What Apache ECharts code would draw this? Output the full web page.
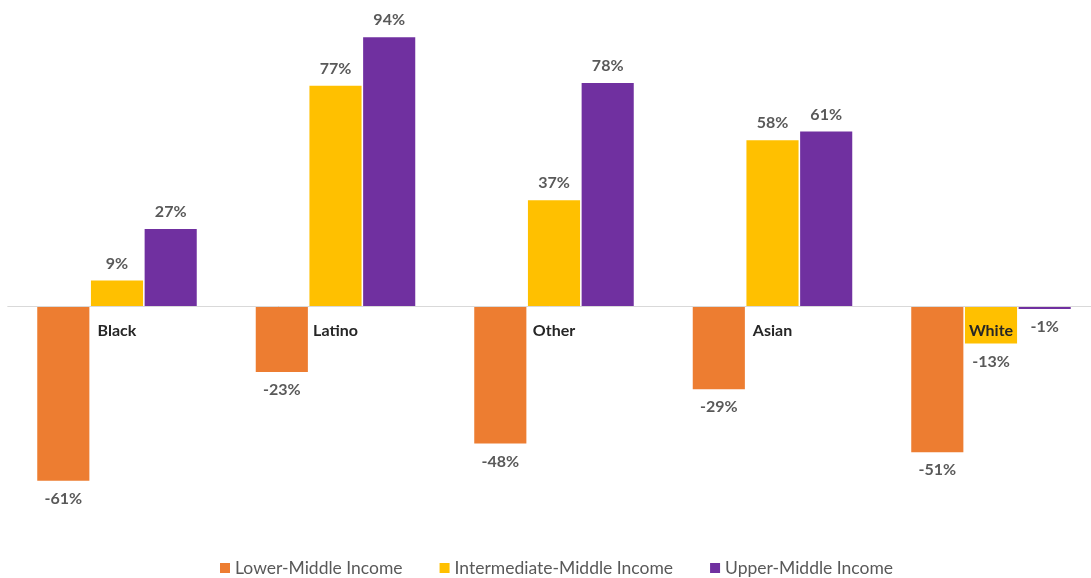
<!DOCTYPE html>
<html>
<head>
<meta charset="utf-8">
<script src="https://cdn.jsdelivr.net/npm/echarts@6/dist/echarts.min.js"></script>
<style>
  html, body { margin: 0; padding: 0; background: #fff; }
  #main { width: 1091px; height: 578px; }
</style>
</head>
<body>
<div id="main"></div>
<script>
var categories = ['Black', 'Latino', 'Other', 'Asian', 'White'];
var seriesNames = ['Lower-Middle Income', 'Intermediate-Middle Income', 'Upper-Middle Income'];
var lowerMiddle = [-61, -23, -48, -29, -51];
var intermediateMiddle = [9, 77, 37, 58, -13];
var upperMiddle = [27, 94, 78, 61, -1];
var colors = ['#ed7d31', '#ffc000', '#7030a0'];

// labels go above positive bars, below negative ones
function withLabels(values) {
    return values.map(function (v) {
        return { value: v, label: { position: v < 0 ? 'bottom' : 'top', distance: v < 0 ? 10 : 9 } };
    });
}

function makeSeries(name, values, color) {
    return {
        name: name,
        type: 'bar',
        barGap: '3%',
        barCategoryGap: '27%',
        itemStyle: { color: color },
        label: {
            show: true,
            formatter: '{c}%',
            color: '#595959',
            fontWeight: 'bold',
            fontSize: 16,
            fontFamily: 'Lato'
        },
        data: withLabels(values)
    };
}

var myChart = echarts.init(document.getElementById('main'));
var option = {
    animation: false,
    color: colors,
    grid: {
        left: 7.75,
        width: 1092.5,
        top: 20,
        height: 486.5,
        containLabel: false,
        outerBoundsMode: 'none'
    },
    legend: {
        bottom: -4,
        left: 215,
        itemWidth: 10,
        itemHeight: 10,
        itemGap: 37,
        icon: 'rect',
        textStyle: { color: '#595959', fontSize: 17.5, fontFamily: 'Lato' },
        data: seriesNames
    },
    xAxis: {
        type: 'category',
        data: categories,
        z: 10,
        axisLine: { onZero: true, lineStyle: { color: '#d9d9d9', width: 1 } },
        axisTick: { show: false },
        axisLabel: {
            margin: -184, // pull labels up to sit just under the zero line
            color: '#262626',
            fontWeight: 'bold',
            fontSize: 16,
            fontFamily: 'Lato'
        }
    },
    yAxis: {
        type: 'value',
        min: -70,
        max: 100,
        show: false,
        splitLine: { show: false }
    },
    series: [
        makeSeries(seriesNames[0], lowerMiddle, colors[0]),
        makeSeries(seriesNames[1], intermediateMiddle, colors[1]),
        makeSeries(seriesNames[2], upperMiddle, colors[2])
    ]
};
myChart.setOption(option);
</script>
</body>
</html>
